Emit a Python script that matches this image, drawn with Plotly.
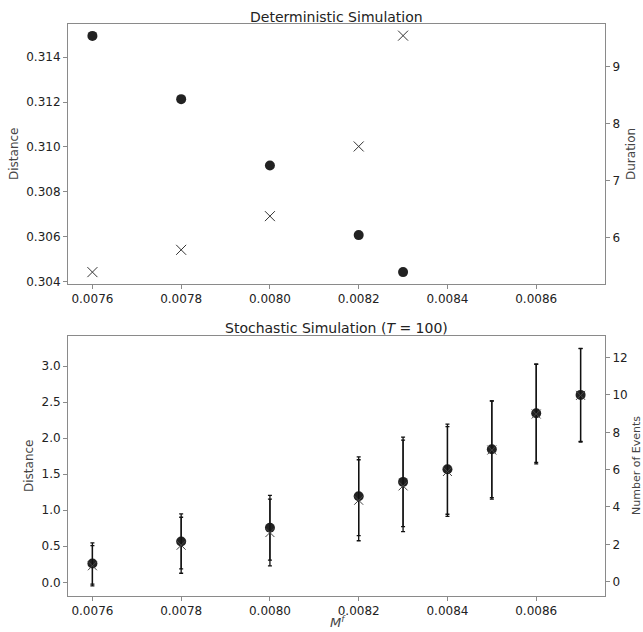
import plotly.graph_objects as go

# Deterministic simulation
det_mf = [0.0076, 0.0078, 0.0080, 0.0082, 0.0083]
det_distance = [0.31495, 0.31213, 0.30917, 0.30607, 0.30442]
det_duration = [5.40, 5.79, 6.38, 7.60, 9.54]

# Stochastic simulation (T = 100)
sto_mf = [0.0076, 0.0078, 0.0080, 0.0082, 0.0083, 0.0084, 0.0085, 0.0086, 0.0087]
sto_distance = [0.26, 0.567, 0.757, 1.194, 1.393, 1.569, 1.845, 2.345, 2.60]
sto_distance_err = [0.286, 0.382, 0.45, 0.546, 0.62, 0.625, 0.67, 0.68, 0.646]
sto_events = [0.85, 1.95, 2.63, 4.36, 5.13, 5.9, 7.05, 8.98, 9.98]
sto_events_err = [1.08, 1.5, 1.79, 2.17, 2.45, 2.4, 2.63, 2.67, 2.5]

x_ticks = [0.0076, 0.0078, 0.0080, 0.0082, 0.0084, 0.0086]
x_ticktext = ["0.0076", "0.0078", "0.0080", "0.0082", "0.0084", "0.0086"]
det_dist_ticks = [0.304, 0.306, 0.308, 0.310, 0.312, 0.314]
det_dur_ticks = [6, 7, 8, 9]
sto_dist_ticks = [0.0, 0.5, 1.0, 1.5, 2.0, 2.5, 3.0]
sto_ev_ticks = [0, 2, 4, 6, 8, 10, 12]

FONT = "DejaVu Sans"
DARK = "#222222"
SPINE = "#8a8a8a"
LABEL = "#444444"

fig = go.Figure()

# top panel
fig.add_trace(go.Scatter(x=det_mf, y=det_duration, mode="markers", xaxis="x", yaxis="y2",
                         marker=dict(symbol="x-thin", size=10, line=dict(color="#333333", width=1)),
                         showlegend=False))
fig.add_trace(go.Scatter(x=det_mf, y=det_distance, mode="markers", xaxis="x", yaxis="y",
                         marker=dict(symbol="circle", size=10, color=DARK),
                         showlegend=False))

# bottom panel
fig.add_trace(go.Scatter(x=sto_mf, y=sto_events, mode="markers", xaxis="x2", yaxis="y4",
                         marker=dict(symbol="x-thin", size=9, line=dict(color="#444444", width=1)),
                         error_y=dict(type="data", array=sto_events_err, color="#111111", thickness=1.3, width=2),
                         showlegend=False))
fig.add_trace(go.Scatter(x=sto_mf, y=sto_distance, mode="markers", xaxis="x2", yaxis="y3",
                         marker=dict(symbol="circle", size=10, color=DARK),
                         error_y=dict(type="data", array=sto_distance_err, color="#111111", thickness=1.3, width=2),
                         showlegend=False))

W, H = 643, 632
xdom = [68 / W, 605 / W]
top_dom = [1 - 284 / H, 1 - 24 / H]
bot_dom = [1 - 596 / H, 1 - 336 / H]

tickfont = dict(family=FONT, size=12, color="#222222")
common = dict(showline=True, linecolor=SPINE, linewidth=1, ticks="outside", ticklen=4,
              tickcolor=SPINE, showgrid=False, zeroline=False, tickfont=tickfont, automargin=False)

def ann(text, px, py, size=12, angle=0, color=LABEL):
    return dict(text=text, x=px / W, y=1 - py / H, xref="paper", yref="paper", showarrow=False,
                xanchor="center", yanchor="middle", textangle=angle,
                font=dict(family=FONT, size=size, color=color))

fig.update_layout(
    width=W, height=H,
    margin=dict(l=0, r=0, t=0, b=0),
    paper_bgcolor="white", plot_bgcolor="white",
    font=dict(family=FONT, color="#222222"),
    xaxis=dict(domain=xdom, anchor="y", range=[0.007545, 0.008755], tickvals=x_ticks,
               ticktext=x_ticktext, mirror=True, **common),
    yaxis=dict(domain=top_dom, anchor="x", range=[0.30389, 0.31548], tickvals=det_dist_ticks,
               tickformat=".3f", mirror=True, **common),
    yaxis2=dict(overlaying="y", side="right", anchor="x", range=[5.192, 9.744], tickvals=det_dur_ticks,
                **common),
    xaxis2=dict(domain=xdom, anchor="y3", range=[0.007545, 0.008755], tickvals=x_ticks,
                ticktext=x_ticktext, mirror=True, **common),
    yaxis3=dict(domain=bot_dom, anchor="x2", range=[-0.19, 3.417], tickvals=sto_dist_ticks,
                tickformat=".1f", mirror=True, **common),
    yaxis4=dict(overlaying="y3", side="right", anchor="x2", range=[-0.77, 13.16], tickvals=sto_ev_ticks,
                **common),
    annotations=[
        ann("Deterministic Simulation", 336.5, 17, size=14, color="#222222"),
        ann("Stochastic Simulation (<i>T</i> = 100)", 336.5, 328, size=14, color="#222222"),
        ann("Distance", 14, 154, angle=-90),
        ann("Duration", 631, 154, angle=-90),
        ann("Distance", 29, 466, angle=-90),
        ann("Number of Events", 636, 466, size=11, angle=-90),
        ann("<i>M</i><sup><i>f</i></sup>", 338, 622, size=13),
    ],
)

fig.write_html("out.html", config={"displayModeBar": False},
               post_script="document.body.style.margin='0';document.body.style.overflow='hidden';")
